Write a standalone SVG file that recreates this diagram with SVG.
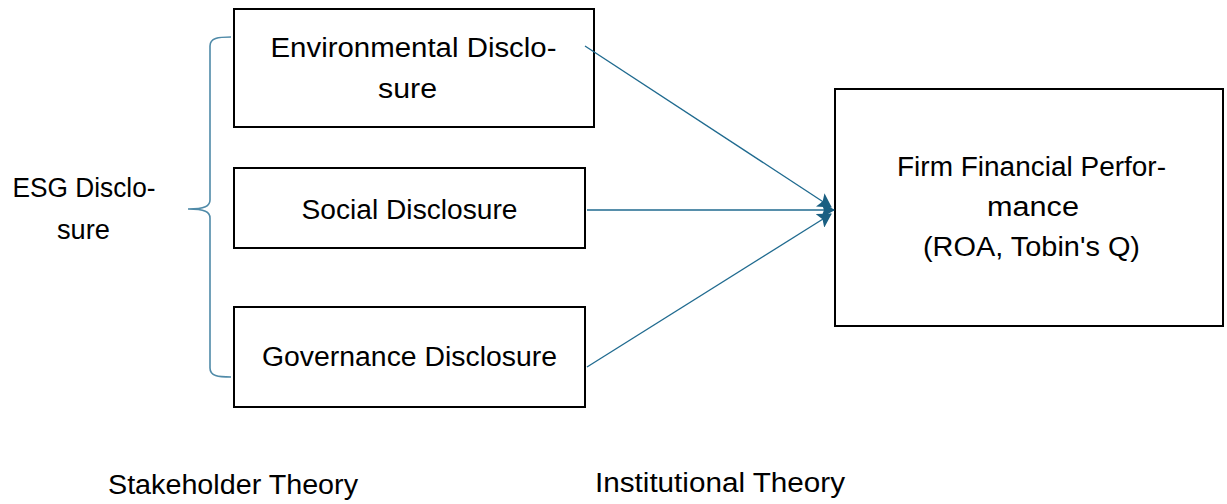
<svg xmlns="http://www.w3.org/2000/svg" width="1227" height="504" viewBox="0 0 1227 504">
<style>
.box{fill:#fff;stroke:#000;stroke-width:2}
.t{font-family:"Liberation Sans",Arial,sans-serif;font-size:27px;fill:#000;text-anchor:middle}
.conn{stroke:#1f6a8f;stroke-width:1.3;fill:none}
.brace{stroke:#4f8aa8;stroke-width:1.6;fill:none}
</style>
<defs>
<marker id="ah" viewBox="0 0 14 16" refX="13" refY="8" markerWidth="14" markerHeight="16" markerUnits="userSpaceOnUse" orient="auto">
<path d="M0,0 L14,8 L0,16 L3,8 z" fill="#1a5f82"/>
</marker>
</defs>
<rect width="1227" height="504" fill="#fff"/>
<g id="brace">
<path class="brace" d="M231,37 C218,37 210,38 210,46 L210,200 C210,206 205,209 188,209 C205,209 210,212 210,218 L210,368 C210,376 218,377 231,377"/>
</g>
<g id="env">
<rect class="box" x="234" y="9" width="360" height="118"/>
<text class="t" x="413.5" y="57" textLength="286" lengthAdjust="spacingAndGlyphs">Environmental Disclo-</text>
<text class="t" x="407.5" y="98" textLength="59" lengthAdjust="spacingAndGlyphs">sure</text>
</g>
<g id="soc">
<rect class="box" x="234" y="168" width="351" height="80"/>
<text class="t" x="409.5" y="219" textLength="216" lengthAdjust="spacingAndGlyphs">Social Disclosure</text>
</g>
<g id="gov">
<rect class="box" x="234" y="307" width="351" height="100"/>
<text class="t" x="409.5" y="366" textLength="295" lengthAdjust="spacingAndGlyphs">Governance Disclosure</text>
</g>
<g id="firm">
<rect class="box" x="835" y="89" width="388" height="237"/>
<text class="t" x="1031.5" y="176" textLength="269" lengthAdjust="spacingAndGlyphs">Firm Financial Perfor-</text>
<text class="t" x="1033" y="216" textLength="92" lengthAdjust="spacingAndGlyphs">mance</text>
<text class="t" x="1031.5" y="256" textLength="217" lengthAdjust="spacingAndGlyphs">(ROA, Tobin's Q)</text>
</g>
<g id="esg">
<text class="t" x="84" y="197" textLength="143" lengthAdjust="spacingAndGlyphs">ESG Disclo-</text>
<text class="t" x="83.5" y="239" textLength="53" lengthAdjust="spacingAndGlyphs">sure</text>
</g>
<g id="theories">
<text class="t" x="233" y="494" textLength="250" lengthAdjust="spacingAndGlyphs">Stakeholder Theory</text>
<text class="t" x="720" y="492" textLength="250" lengthAdjust="spacingAndGlyphs">Institutional Theory</text>
</g>
<g id="connectors">
<line class="conn" x1="585" y1="46" x2="831" y2="207" marker-end="url(#ah)"/>
<line class="conn" x1="587" y1="210" x2="834" y2="210" marker-end="url(#ah)"/>
<line class="conn" x1="587" y1="367" x2="831" y2="214" marker-end="url(#ah)"/>
</g>
</svg>
